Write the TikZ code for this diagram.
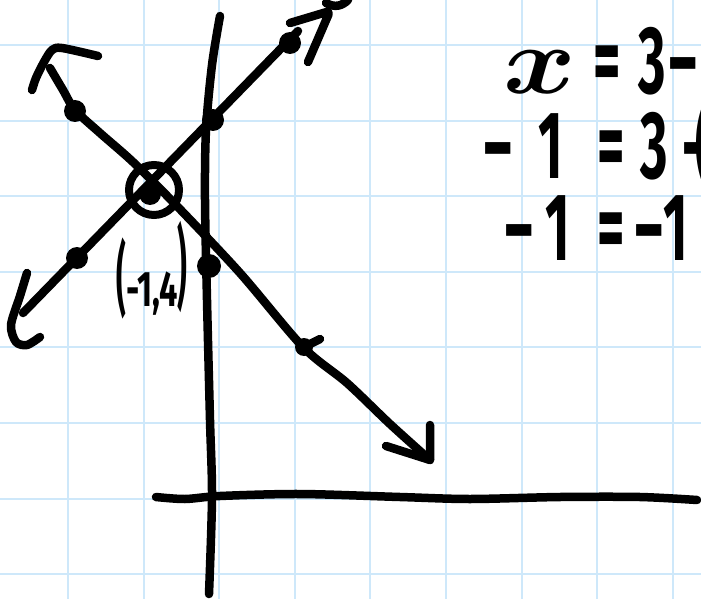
\RequirePackage{fix-cm}
\documentclass[tikz,border=0pt]{standalone}
\usepackage{fontspec}
\usepackage{bm}
\setmainfont{Fira Sans}
\definecolor{gridblue}{RGB}{206,232,250}
\newcommand{\narrow}[1]{\scalebox{0.55}[1]{#1}}
\tikzset{
  gridline/.style={
    draw=gridblue,
    line width=2pt
  },
  ink/.style={
    draw=black,
    line width=8.5pt,
    line cap=round,
    line join=round
  },
  blob/.style={
    shape = circle,
    fill,
    inner sep = 0pt,
    minimum size=22pt
  },
  handtext/.style={
    inner sep=0pt,
    anchor=base west,
    align=left,
    font=\fontsize{96}{72.5}\selectfont\bfseries
  }
}

\begin{document}
\begin{tikzpicture}[x=1pt,y=-1pt]
  \fill[white] (0,0) rectangle (701,599);
  \useasboundingbox (0,0) rectangle (701,599);
  % grid paper
  \foreach \g in {0,...,8}{
    \draw[gridline] ({68+75.6*\g},0) -- ++(0,599);
  }
  \foreach \g in {0,...,7}{
    \draw[gridline] (0,{45+75.6*\g}) -- ++(701,0);
  }
  % axes
  \draw[ink] plot[smooth] coordinates {(220,16) (212,65) (206,130) (205,200) (207,300) (210,420) (212,497) (209,594)};
  \draw[ink] plot[smooth] coordinates {(156,497) (185,499) (220,496) (300,494) (400,497) (470,499) (560,497) (640,497) (697,500)};
  % rising line
  \coordinate (l1a) at (23,313);
  \coordinate (l1b) at (298,31);
  \draw[ink] (l1a) -- (l1b);
  \draw[ink,rounded corners=4pt] (290,23) -- (330,11) -- (308,62);
  \draw[ink] plot[smooth] coordinates {(27,273) (20,296) (11,325) (16,342) (27,345) (40,337)};
  \draw[ink] (326,3) .. controls (335,8) and (342,6) .. (348,0);
  % falling line
  \draw[ink] plot[smooth] coordinates {(50,68) (63,90) (75,110) (100,133) (133,162) (175,204) (240,273) (303,347) (347,383) (390,424) (430,460)};
  \draw[ink] (430,425) -- (430,460) -- (386,446);
  \draw[ink] plot[smooth] coordinates {(32,90) (36,78) (44,62) (52,50) (62,48) (98,56)};
  % points
  \node[blob] (p1) at (77,258) {};
  \node[blob] (p2) at (150,194) {};
  \node[blob] (p3) at (213,120) {};
  \node[blob] (p4) at (290,43) {};
  \node[blob] (q1) at (75,111) {};
  \node[blob,minimum size=24pt] (q2) at (209,266) {};
  \node[blob,minimum size=18pt] (q3) at (304,347) {};
  \draw[ink] (q3.center) -- ++(16,-8);
  \node[draw,circle,line width=8pt,minimum size=50pt,inner sep=0pt] (sol) at (154,190) {};
  \node[inner sep=0pt,anchor=base,font=\fontsize{50}{50}\selectfont\bfseries] (lbl) at (152,306)
    {\scalebox{0.6}[1.6]{(}\scalebox{0.65}[1]{-1,4}\raisebox{8pt}{\scalebox{0.6}[1.8]{)}}};
  % working
  \node[handtext] (work) at (484,260)
    {\hspace{19pt}\scalebox{1.15}[1]{$\bm{x}$}\hspace{18pt}\narrow{=\hspace{0.32em}3\hspace{0.07em}–}\\
     \narrow{–\hspace{0.5em}1\hspace{0.66em}=\hspace{0.3em}3\hspace{0.3em}–\hspace{-0.3em}(}\\
     \hspace{21pt}\narrow{–\hspace{0.24em}1\hspace{0.53em}=\hspace{0.2em}–\hspace{0.01em}1}};
\end{tikzpicture}
\end{document}
